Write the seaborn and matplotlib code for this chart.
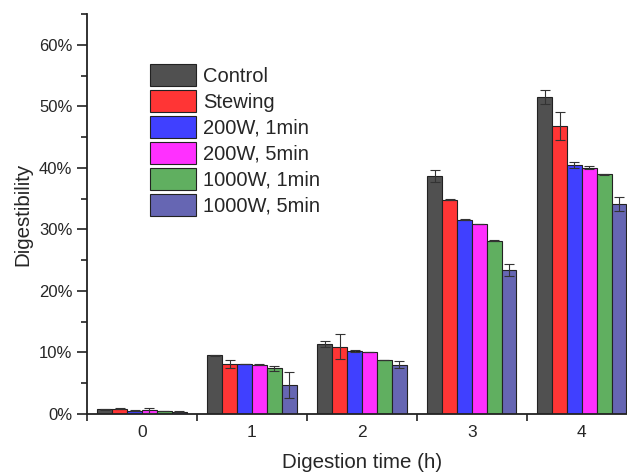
import numpy as np
import pandas as pd
import matplotlib
matplotlib.use("Agg")
import matplotlib.pyplot as plt
import seaborn as sns
from matplotlib.ticker import PercentFormatter, MultipleLocator, FixedLocator

# digestion times (h) and treatments
times = ["0", "1", "2", "3", "4"]
treatments = ["Control", "Stewing", "200W, 1min", "200W, 5min", "1000W, 1min", "1000W, 5min"]

# digestibility (%) per treatment, one value per time point
control = [0.75, 9.55, 11.35, 38.7, 51.5]
stewing = [0.85, 8.2, 10.95, 34.8, 46.8]
w200_1 = [0.55, 8.15, 10.25, 31.6, 40.5]
w200_5 = [0.6, 8.0, 10.1, 30.9, 40.0]
w1000_1 = [0.5, 7.4, 8.8, 28.15, 38.95]
w1000_5 = [0.4, 4.7, 8.0, 23.45, 34.15]

# standard deviations (%)
control_sd = [0.05, 0.05, 0.5, 1.0, 1.2]
stewing_sd = [0.1, 0.65, 2.05, 0.1, 2.2]
w200_1_sd = [0.05, 0.05, 0.1, 0.1, 0.5]
w200_5_sd = [0.4, 0.1, 0.05, 0.05, 0.25]
w1000_1_sd = [0.05, 0.35, 0.05, 0.05, 0.05]
w1000_5_sd = [0.05, 2.15, 0.6, 0.95, 1.1]

colors = ["#505050", "#FF3535", "#4040FF", "#FF30FF", "#60AF60", "#6666B3"]

values = [control, stewing, w200_1, w200_5, w1000_1, w1000_5]
sds = [control_sd, stewing_sd, w200_1_sd, w200_5_sd, w1000_1_sd, w1000_5_sd]

rows = []
for name, vals, errs in zip(treatments, values, sds):
    for t, v, e in zip(times, vals, errs):
        rows.append({"time": t, "treatment": name, "value": v / 100, "sd": e / 100})
df = pd.DataFrame(rows)

sns.set_style("ticks")
plt.rcParams["font.family"] = ["Liberation Sans", "DejaVu Sans"]

fig = plt.figure(figsize=(6.27, 4.72), dpi=100)
ax = fig.add_axes([0.1388, 0.1229, 0.877, 0.8475])

sns.barplot(data=df, x="time", y="value", hue="treatment", hue_order=treatments,
            order=times, palette=colors, errorbar=None, width=0.81, saturation=1,
            edgecolor="#222222", linewidth=0.8, ax=ax)

# error bars on top of each bar
for i, name in enumerate(treatments):
    cont = ax.containers[i]
    sub = df[df["treatment"] == name]
    xs = [p.get_x() + p.get_width() / 2 for p in cont.patches]
    ax.errorbar(xs, sub["value"].values, yerr=sub["sd"].values, fmt="none",
                ecolor="#333333", elinewidth=0.8, capsize=3.5, capthick=0.8, zorder=5)

ax.set_xlim(-0.5, 4.5)
ax.set_ylim(0, 0.65)
ax.yaxis.set_major_locator(MultipleLocator(0.1))
ax.yaxis.set_minor_locator(MultipleLocator(0.05))
ax.yaxis.set_major_formatter(PercentFormatter(1.0, decimals=0))
ax.xaxis.set_minor_locator(FixedLocator([-0.5, 0.5, 1.5, 2.5, 3.5]))
ax.tick_params(axis="x", which="major", length=0, labelsize=12.5, pad=8)
ax.tick_params(axis="x", which="minor", length=5, width=1.2, color="#222222")
ax.tick_params(axis="y", which="major", length=7, width=1.2, labelsize=12, color="#222222")
ax.tick_params(axis="y", which="minor", length=4, width=1.2, color="#222222")

for s in ["top", "right"]:
    ax.spines[s].set_visible(False)
for s in ["left", "bottom"]:
    ax.spines[s].set_linewidth(1.3)
    ax.spines[s].set_color("#222222")

ax.set_xlabel("Digestion time (h)", fontsize=14.8, labelpad=9)
ax.set_ylabel("Digestibility", fontsize=14.8, labelpad=5)

ax.legend(loc="upper left", bbox_to_anchor=(0.239, 0.864), bbox_transform=fig.transFigure,
          frameon=False, fontsize=14.5, handlelength=2.3, handleheight=1.3,
          labelspacing=0.2, handletextpad=0.35, borderpad=0, borderaxespad=0)

fig.savefig("out.png", dpi=100)
